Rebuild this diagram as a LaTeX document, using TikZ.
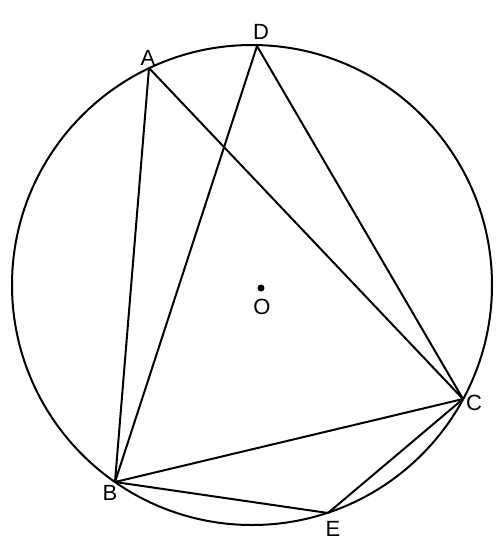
\documentclass[tikz,border=0pt]{standalone}
\usepackage{fontspec}
\setmainfont{Liberation Sans}
\def\circumcircle{(252,285) circle (240)}
\colorlet{figure edge}{black}
\tikzset{
  outline/.style={draw=figure edge, line width=1pt},
  chord/.style={draw=figure edge, line width=1pt, line join=round},
  pointname/.style={inner sep=0pt, font=\fontsize{11}{13}\selectfont},
  centre/.style={circle, fill=figure edge, minimum size=3.5pt, inner sep=0pt}
}

\begin{document}
\begin{tikzpicture}[x=0.5pt, y=-0.5pt]
  \useasboundingbox (0,0) rectangle (501,547);

  % points on the circle
  \coordinate (A) at (149,68);
  \coordinate (D) at (257,46);
  \coordinate (C) at (463,399);
  \coordinate (B) at (115,482);
  \coordinate (E) at (328,513);
  \node[centre] (O) at (261,288) {};

  \draw[outline] \circumcircle;

  \draw[chord] (A) -- (B);
  \draw[chord] (A) -- (C);
  \draw[chord] (D) -- (B);
  \draw[chord] (D) -- (C);
  \draw[chord] (B) -- (C);
  \draw[chord] (B) -- (E) -- (C);

  % letters
  \node[pointname] (labA) at (148,58) {A};
  \node[pointname] (labD) at (261,32) {D};
  \node[pointname] (labC) at (474,403) {C};
  \node[pointname] (labB) at (110,493) {B};
  \node[pointname] (labE) at (333,529) {E};
  \node[pointname] (labO) at (262,307) {O};

\end{tikzpicture}
\end{document}
